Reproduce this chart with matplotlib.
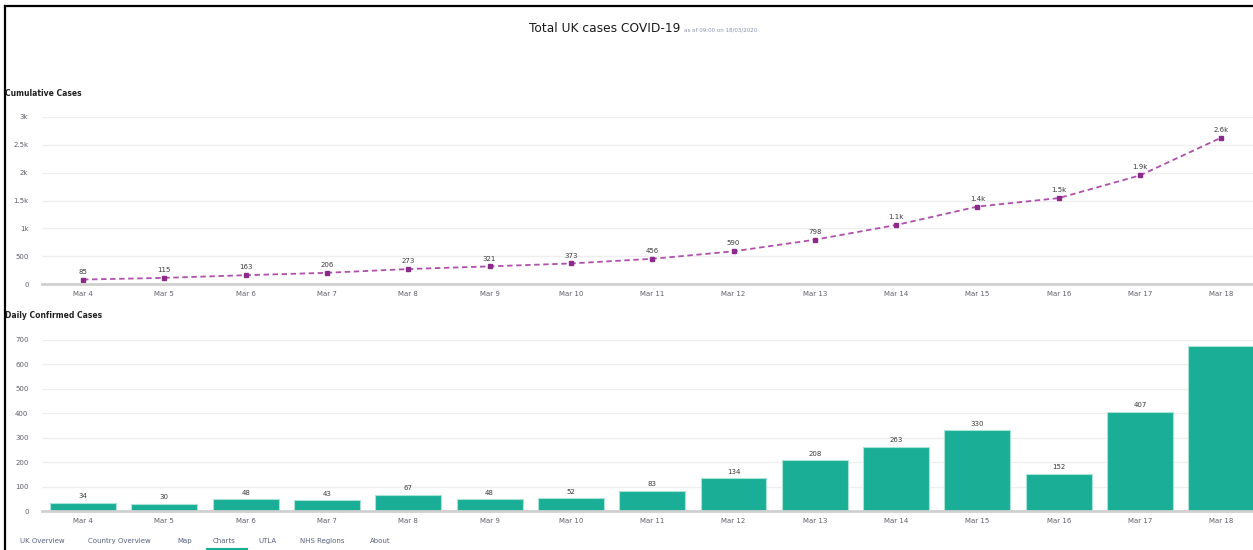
import matplotlib
matplotlib.use("Agg")
import matplotlib.pyplot as plt
from matplotlib.lines import Line2D

dates = ["Mar 4", "Mar 5", "Mar 6", "Mar 7", "Mar 8", "Mar 9", "Mar 10", "Mar 11",
         "Mar 12", "Mar 13", "Mar 14", "Mar 15", "Mar 16", "Mar 17", "Mar 18"]
cumulative = [85, 115, 163, 206, 273, 321, 373, 456, 590, 798, 1061, 1391, 1543, 1950, 2626]
daily = [34, 30, 48, 43, 67, 48, 52, 83, 134, 208, 263, 330, 152, 407, 676]
cum_ticks = [0, 500, 1000, 1500, 2000, 2500, 3000]
cum_tick_labels = ["0", "500", "1k", "1.5k", "2k", "2.5k", "3k"]
daily_ticks = [0, 100, 200, 300, 400, 500, 600, 700]
nav_items = ["UK Overview", "Country Overview", "Map", "Charts", "UTLA", "NHS Regions", "About"]
nav_x = [20, 88, 177, 213, 258, 300, 370]

W, H = 1253, 550
fig = plt.figure(figsize=(W / 100, H / 100), dpi=100)
fig.patch.set_facecolor("white")

def fx(px):
    return px / W

def fy(py):
    return (H - py) / H

def fmt(v):
    return f"{v/1000:.1f}k" if v >= 1000 else str(v)

tick_color = "#5f5f6a"
x = list(range(len(dates)))
left = fx(42.4)
width = fx(1219.6)

# ---- Top: cumulative line chart
ax1 = fig.add_axes([left, fy(284.3), width, fy(116.7) - fy(284.3)])
ax1.set_xlim(-0.5, len(dates) - 0.5)
ax1.set_ylim(0, 3000)
ax1.set_yticks(cum_ticks)
ax1.set_yticklabels(cum_tick_labels)
ax1.plot(x, cumulative, color="#b04fae", linewidth=1.3, linestyle=(0, (3, 2)),
         marker="s", markersize=3.4, markerfacecolor="#8b2a8b", markeredgecolor="#8b2a8b",
         zorder=3, clip_on=False)
for xi, v in zip(x, cumulative):
    ax1.annotate(fmt(v), (xi, v), xytext=(0, 3.5), textcoords="offset points",
                 ha="center", va="bottom", fontsize=5, color="#3a3a3a")

# ---- Bottom: daily bars
ax2 = fig.add_axes([left, fy(511), width, fy(340) - fy(511)])
ax2.set_xlim(-0.5, len(dates) - 0.5)
ax2.set_ylim(0, 700)
ax2.set_yticks(daily_ticks)
ax2.bar(x, daily, width=0.81, color="#1aae96", edgecolor="#a8e3d6",
        linewidth=0.8, zorder=3, clip_on=False)
for xi, v in zip(x[:-1], daily[:-1]):
    ax2.annotate(str(v), (xi, v), xytext=(0, 2.5), textcoords="offset points",
                 ha="center", va="bottom", fontsize=5, color="#3a3a3a")

for ax in (ax1, ax2):
    ax.set_xticks(x)
    ax.set_xticklabels(dates)
    ax.set_facecolor("none")
    for s in ("top", "right", "left"):
        ax.spines[s].set_visible(False)
    ax.spines["bottom"].set_color("#d0d0d0")
    ax.spines["bottom"].set_linewidth(2)
    ax.spines["bottom"].set_zorder(4)
    ax.tick_params(axis="both", length=0, labelsize=5, colors=tick_color)
    ax.tick_params(axis="y", pad=10)
    ax.tick_params(axis="x", pad=5)
    ax.yaxis.grid(True, color="#eeeeee", linewidth=0.9)
    ax.set_axisbelow(True)

# ---- Titles and texts
fig.text(fx(680), fy(28), "Total UK cases COVID-19", ha="right", va="center",
         fontsize=8.8, color="#1a1a1a")
fig.text(fx(684), fy(30), "as of 09:00 on 18/03/2020", ha="left", va="center",
         fontsize=4, color="#8890b0")
fig.text(fx(5), fy(93), "Cumulative Cases", ha="left", va="center",
         fontsize=5.5, fontweight="bold", color="#222222")
fig.text(fx(5), fy(315), "Daily Confirmed Cases", ha="left", va="center",
         fontsize=5.5, fontweight="bold", color="#222222")

for label, px in zip(nav_items, nav_x):
    fig.text(fx(px), fy(541), label, ha="left", va="center", fontsize=5, color="#5a6080")
fig.add_artist(Line2D([fx(207), fx(246.5)], [fy(548.7), fy(548.7)],
                      color="#1aae96", linewidth=1.5, transform=fig.transFigure))

# ---- Frame (top and left border of the screenshot)
fig.add_artist(Line2D([fx(5), fx(1253)], [fy(6), fy(6)], color="black", linewidth=1.6,
                      transform=fig.transFigure))
fig.add_artist(Line2D([fx(5), fx(5)], [fy(6), fy(550)], color="black", linewidth=1.6,
                      transform=fig.transFigure))

fig.savefig("out.png", dpi=100, facecolor="white")
